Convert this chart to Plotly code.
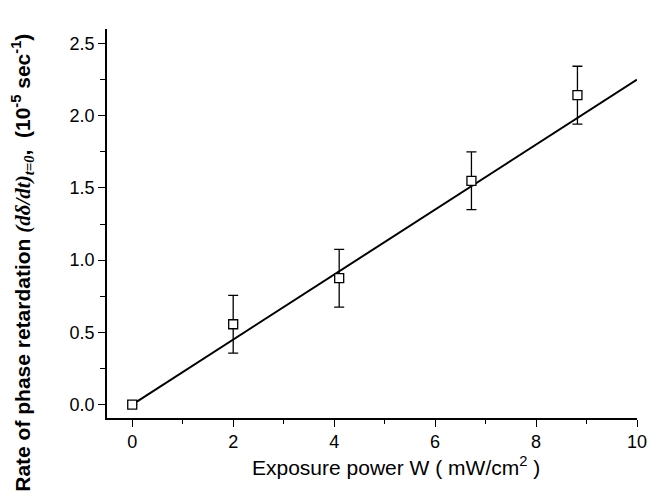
import plotly.graph_objects as go

# Data
exposure_power = [0.0, 2.0, 4.1, 6.72, 8.82]
rate = [0.0, 0.556, 0.875, 1.549, 2.142]
rate_err = [0.0, 0.2, 0.2, 0.2, 0.2]
err_shown = [False, True, True, True, True]

fit_x = [0.0, 10.0]
fit_y = [0.0, 2.25]

x_tickvals = [0, 2, 4, 6, 8, 10]
x_ticktext = ["0", "2", "4", "6", "8", "10"]
y_tickvals = [0.0, 0.5, 1.0, 1.5, 2.0, 2.5]
y_ticktext = ["0.0", "0.5", "1.0", "1.5", "2.0", "2.5"]

FONT = "Liberation Sans, Arial, sans-serif"

fig = go.Figure()

fig.add_trace(go.Scatter(
    x=fit_x, y=fit_y, mode="lines",
    line=dict(color="black", width=2),
    showlegend=False, hoverinfo="skip",
))

fig.add_trace(go.Scatter(
    x=exposure_power, y=rate, mode="markers",
    marker=dict(symbol="square", size=9, color="white",
                line=dict(color="black", width=1.3)),
    error_y=dict(type="data", array=[e if s else 0 for e, s in zip(rate_err, err_shown)],
                 visible=True, color="black", thickness=1.3, width=5),
    showlegend=False,
))

# the page body adds an 8px margin, so the figure is sized/offset to compensate
fig.update_layout(
    width=652, height=488,
    margin=dict(l=99, r=23, t=21, b=78, autoexpand=False),
    paper_bgcolor="white", plot_bgcolor="white",
    font=dict(family=FONT, size=18, color="black"),
    xaxis=dict(
        range=[-0.5, 10.0], showgrid=False, zeroline=False,
        showline=True, linecolor="black", linewidth=1.5,
        ticks="outside", ticklen=7, tickwidth=1.3, tickcolor="black",
        tickvals=x_tickvals, ticktext=x_ticktext,
        minor=dict(dtick=1, tick0=0, ticks="outside", ticklen=4, tickwidth=1.2, tickcolor="black"),
        tickfont=dict(size=18),
    ),
    yaxis=dict(
        range=[-0.093, 2.6], showgrid=False, zeroline=False,
        showline=True, linecolor="black", linewidth=1.5,
        ticks="outside", ticklen=7, tickwidth=1.3, tickcolor="black",
        tickvals=y_tickvals, ticktext=y_ticktext,
        minor=dict(dtick=0.25, tick0=0, ticks="outside", ticklen=5, tickwidth=1.2, tickcolor="black"),
        tickfont=dict(size=18),
    ),
    annotations=[
        dict(
            text="Exposure power W ( mW/cm<sup>2</sup> )",
            xref="paper", yref="paper", x=0.545, y=-0.123,
            xanchor="center", yanchor="middle", showarrow=False,
            font=dict(size=21, family=FONT),
        ),
        dict(
            text=("<b>Rate of phase retardation "
                  "<span style='font-family:Liberation Serif, Times New Roman, serif'>"
                  "<i>(d\u03b4/dt)</i><sub><i>t=0</i></sub></span>,  "
                  "(10<sup>-5</sup> sec<sup>-1</sup>)</b>"),
            xref="paper", yref="paper", x=-0.1585, y=0.399,
            xanchor="center", yanchor="middle", showarrow=False,
            textangle=-90,
            font=dict(size=21, family=FONT),
        ),
    ],
)

fig.write_html("out.html")
